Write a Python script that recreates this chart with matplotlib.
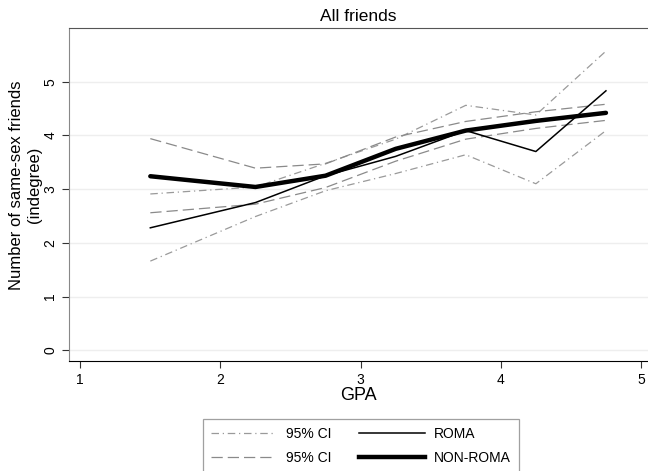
import matplotlib
matplotlib.use("Agg")
import matplotlib.pyplot as plt
from matplotlib.lines import Line2D

plt.rcParams["font.family"] = ["Liberation Sans", "DejaVu Sans"]

# ── DATA ────────────────────────────────────────────────────
gpa = [1.5, 2.25, 2.75, 3.25, 3.75, 4.25, 4.75]

roma    = [2.28, 2.75, 3.25, 3.61, 4.09, 3.70, 4.83]
roma_lo = [1.66, 2.49, 2.97, 3.29, 3.64, 3.10, 4.09]
roma_hi = [2.91, 3.04, 3.48, 3.93, 4.56, 4.38, 5.57]

nonroma    = [3.24, 3.04, 3.25, 3.75, 4.09, 4.27, 4.42]
nonroma_lo = [2.56, 2.72, 3.03, 3.52, 3.93, 4.13, 4.28]
nonroma_hi = [3.94, 3.39, 3.47, 3.97, 4.26, 4.44, 4.58]

x_ticks = [1, 2, 3, 4, 5]
y_ticks = [0, 1, 2, 3, 4, 5]

# ── PLOT ────────────────────────────────────────────────────
fig = plt.figure(figsize=(6.48, 4.71), dpi=100)
ax = fig.add_axes([0.1065, 0.2335, 0.8935, 0.7071])

ax.plot(gpa, roma_lo, color="#9a9a9a", lw=0.9, ls=(0, (6, 3, 1, 3)))
ax.plot(gpa, roma_hi, color="#9a9a9a", lw=0.9, ls=(0, (6, 3, 1, 3)))
ax.plot(gpa, nonroma_lo, color="#8a8a8a", lw=0.9, ls=(0, (9, 4)))
ax.plot(gpa, nonroma_hi, color="#8a8a8a", lw=0.9, ls=(0, (9, 4)))
ax.plot(gpa, roma, color="black", lw=1.1)
ax.plot(gpa, nonroma, color="black", lw=3.2, solid_capstyle="round")

ax.set_xlim(0.92, 5.05)
ax.set_ylim(-0.2, 6.0)
ax.set_xticks(x_ticks)
ax.set_yticks(y_ticks)
ax.tick_params(axis="both", direction="out", length=5, labelsize=10, color="#333333")
ax.tick_params(axis="y", labelrotation=90)
for lab in ax.get_yticklabels():
    lab.set_va("center")
ax.grid(axis="y", color="#eeeeee", lw=1)
ax.set_axisbelow(True)

ax.spines["left"].set_color("#888888")
ax.spines["top"].set_color("#555555")
ax.spines["bottom"].set_color("black")
ax.spines["right"].set_visible(False)

ax.set_title("All friends", fontsize=12.5, pad=5)
ax.set_xlabel("GPA", fontsize=13, labelpad=0)
ax.set_ylabel("Number of same-sex friends\n(indegree)", fontsize=12)
ax.yaxis.set_label_coords(-0.047, 0.528)

handles = [
    Line2D([], [], color="#9a9a9a", lw=0.9, ls=(0, (6, 3, 1, 3))),
    Line2D([], [], color="#8a8a8a", lw=0.9, ls=(0, (9, 4))),
    Line2D([], [], color="black", lw=1.1),
    Line2D([], [], color="black", lw=3.2),
]
labels = ["95% CI", "95% CI", "ROMA", "NON-ROMA"]
leg = fig.legend(handles, labels, ncol=2, loc="upper left",
                 bbox_to_anchor=(0.302, 0.126), fontsize=10,
                 handlelength=4.7, handletextpad=0.7, columnspacing=2.0,
                 frameon=True, fancybox=False, borderpad=0.6, labelspacing=0.7)
leg.get_frame().set_edgecolor("#888888")
leg.get_frame().set_linewidth(0.9)

plt.savefig("out.png", dpi=100)
